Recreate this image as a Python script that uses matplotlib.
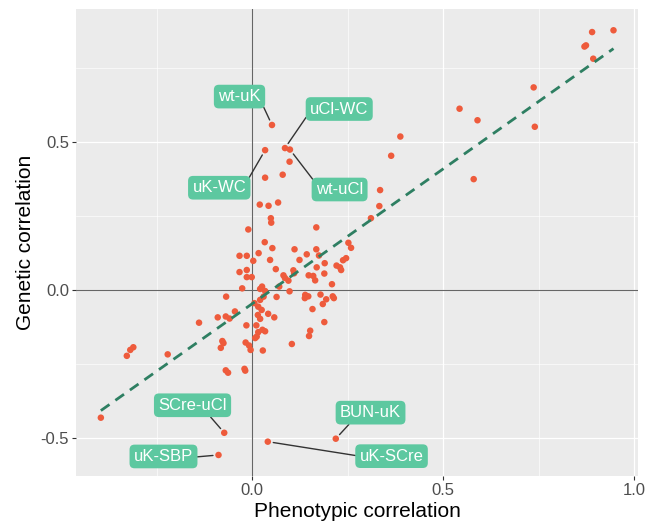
"""
Phenotypic vs genetic correlation scatter
"""

import matplotlib
matplotlib.use("Agg")
import matplotlib.pyplot as plt

plt.rcParams["font.family"] = ["Liberation Sans", "DejaVu Sans"]

# phenotypic (x) and genetic (y) correlations
pheno = [
    0.052, 0.034, 0.086, 0.099, 0.098, 0.080, 0.034, 0.388, 0.364, 0.890,
    0.946, 0.870, 0.874, 0.893, 0.737, 0.543, 0.590, 0.740, 0.580, 0.335,
    0.333, 0.311, 0.020, 0.043, 0.068, 0.049, 0.050, -0.010, 0.168, 0.033,
    0.252, 0.259, 0.053, 0.111, 0.168, 0.017, 0.143, -0.033, -0.014, 0.175,
    0.246, 0.238, 0.003, 0.047, 0.124, 0.190, 0.221, 0.230, 0.233, 0.169,
    0.062, 0.108, 0.110, -0.033, -0.014, 0.189, 0.082, 0.086, 0.148, 0.160,
    0.165, -0.014, -0.001, 0.095, 0.209, 0.071, 0.026, 0.021, -0.026, 0.034,
    0.098, 0.139, 0.147, 0.138, 0.179, 0.064, 0.211, 0.214, 0.194, 0.185,
    0.030, 0.021, 0.016, 0.025, 0.015, 0.021, 0.006, 0.158, 0.042, 0.058,
    0.011, -0.015, 0.189, 0.027, 0.034, 0.152, 0.149, 0.008, 0.016, 0.012,
    0.104, 0.028, -0.017, -0.008, -0.004, -0.020, -0.018, -0.068, -0.045, -0.090,
    -0.069, -0.059, -0.139, -0.078, -0.075, -0.082, -0.069, -0.063, -0.311, -0.319,
    -0.328, -0.221, -0.396, -0.073, -0.088, 0.219, 0.041,
]
genetic = [
    0.559, 0.474, 0.481, 0.476, 0.435, 0.391, 0.381, 0.520, 0.455, 0.873,
    0.879, 0.824, 0.828, 0.783, 0.686, 0.614, 0.575, 0.553, 0.376, 0.339,
    0.285, 0.244, 0.290, 0.286, 0.297, 0.244, 0.229, 0.206, 0.213, 0.163,
    0.161, 0.144, 0.143, 0.139, 0.139, 0.126, 0.122, 0.117, 0.117, 0.118,
    0.109, 0.102, 0.100, 0.103, 0.103, 0.092, 0.084, 0.078, 0.069, 0.078,
    0.072, 0.068, 0.058, 0.062, 0.069, 0.057, 0.051, 0.042, 0.051, 0.049,
    0.034, 0.045, 0.045, 0.033, 0.021, 0.013, 0.013, 0.005, 0.007, -0.002,
    -0.003, -0.015, -0.020, -0.026, -0.014, -0.022, -0.020, -0.026, -0.030, -0.046,
    -0.021, -0.032, -0.055, -0.066, -0.083, -0.096, -0.043, -0.063, -0.079, -0.091,
    -0.118, -0.118, -0.107, -0.133, -0.138, -0.136, -0.154, -0.161, -0.141, -0.156,
    -0.181, -0.203, -0.176, -0.186, -0.201, -0.265, -0.271, -0.021, -0.071, -0.091,
    -0.088, -0.095, -0.109, -0.171, -0.178, -0.194, -0.270, -0.278, -0.192, -0.201,
    -0.221, -0.216, -0.430, -0.481, -0.556, -0.501, -0.511,
]

# fitted line end points
fit_x = [-0.396, 0.946]
fit_y = [-0.406, 0.817]

# labelled pairs: name, point (x, y), label centre (x, y)
label_names = ["wt-uK", "uCl-WC", "uK-WC", "wt-uCl", "SCre-uCl", "uK-SBP", "BUN-uK", "uK-SCre"]
label_points = [(0.052, 0.559), (0.086, 0.481), (0.034, 0.474), (0.099, 0.476),
                (-0.073, -0.481), (-0.088, -0.556), (0.219, -0.501), (0.041, -0.511)]
label_pos = [(-0.033, 0.655), (0.228, 0.613), (-0.086, 0.347), (0.229, 0.341),
             (-0.156, -0.388), (-0.232, -0.561), (0.310, -0.413), (0.365, -0.560)]
# where on the label box the leader line starts
line_start = [(1.0, 0.2), (0.0, 0.33), (1.0, 0.83), (0.0, 0.9),
              (0.71, 0.0), (1.0, 0.45), (0.21, 0.0), (0.0, 0.5)]

fig = plt.figure(figsize=(6.47, 5.28), dpi=100)
ax = fig.add_axes([0.1175, 0.0985, 0.8685, 0.8845])
ax.set_facecolor("#EBEBEB")
for s in ax.spines.values():
    s.set_visible(False)

ax.set_xlim(-0.461, 1.010)
ax.set_ylim(-0.627, 0.951)
ax.set_xticks([0.0, 0.5, 1.0])
ax.set_xticklabels(["0.0", "0.5", "1.0"])
ax.set_yticks([-0.5, 0.0, 0.5])
ax.set_yticklabels(["-0.5", "0.0", "0.5"])
ax.set_xticks([-0.25, 0.25, 0.75], minor=True)
ax.set_yticks([-0.25, 0.25, 0.75], minor=True)
ax.grid(True, which="major", color="white", linewidth=0.9)
ax.grid(True, which="minor", color="white", linewidth=0.45)
ax.tick_params(which="major", length=3, width=0.8, color="#333333",
               labelsize=12, labelcolor="#4D4D4D", pad=2)
ax.tick_params(which="minor", length=0)
ax.set_axisbelow(True)

ax.axhline(0, color="#666666", linewidth=0.8, zorder=1)
ax.axvline(0, color="#666666", linewidth=0.8, zorder=1)

ax.scatter(pheno, genetic, s=22, color="#EE5B3C", edgecolors="none", zorder=3)
ax.plot(fit_x, fit_y, color="#2E7F62", linewidth=2.0,
        linestyle=(0, (3.8, 2.6)), zorder=4)

for name, pt, pos, rp in zip(label_names, label_points, label_pos, line_start):
    ax.annotate(name, xy=pt, xytext=pos, ha="center", va="center",
                fontsize=12, color="white", zorder=6,
                bbox=dict(boxstyle="round,pad=0.26,rounding_size=0.3",
                          fc="#5DC8A0", ec="none"),
                arrowprops=dict(arrowstyle="-", color="#333333", lw=1.0,
                                shrinkA=0, shrinkB=4, relpos=rp))

ax.set_xlabel("Phenotypic correlation", fontsize=15, labelpad=3)
ax.set_ylabel("Genetic correlation", fontsize=15, labelpad=4)

fig.savefig("out.png", dpi=100)
